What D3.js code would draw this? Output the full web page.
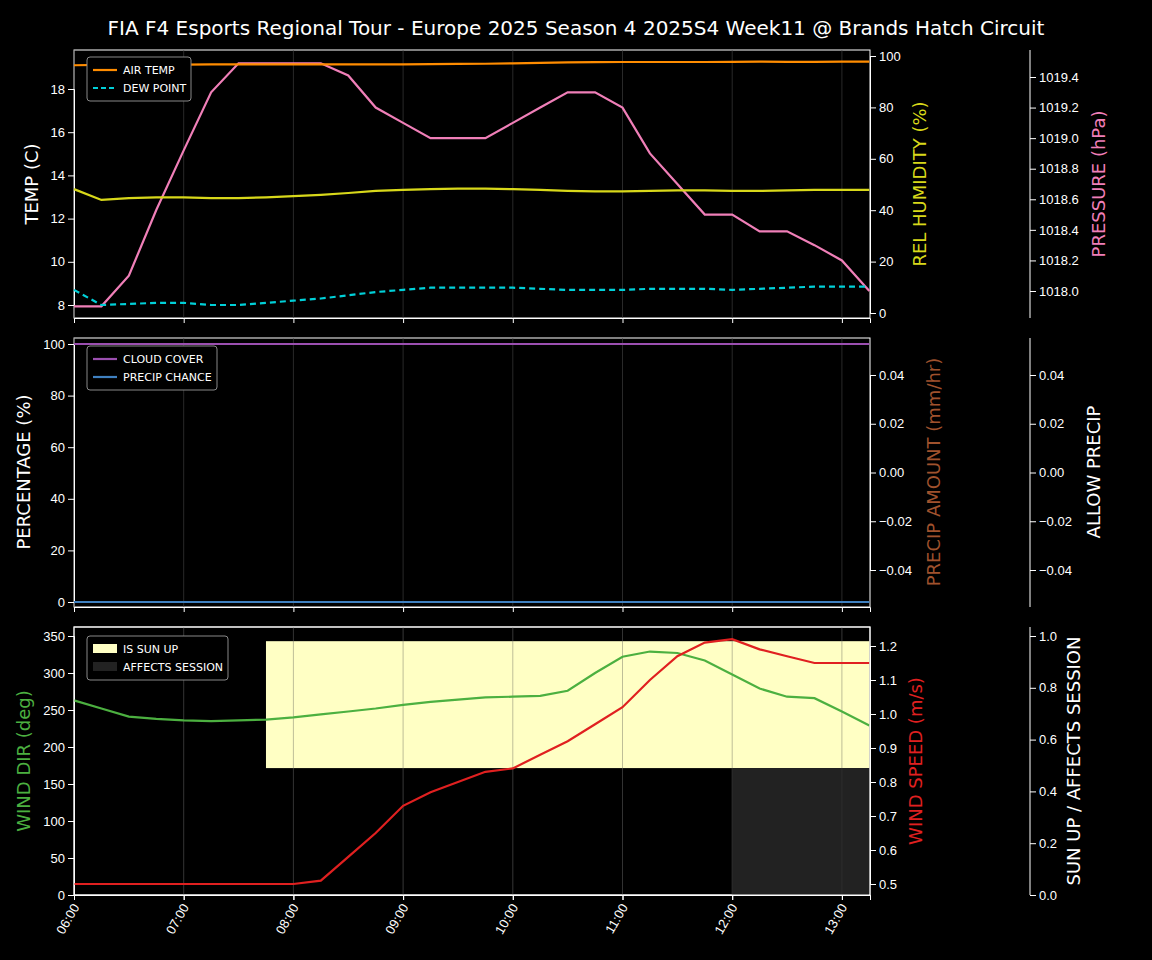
<!DOCTYPE html>
<html><head><meta charset="utf-8">
<script src="https://cdn.jsdelivr.net/npm/d3@7"></script>
<style>body{margin:0;background:#000}svg{font-family:"DejaVu Sans",sans-serif}</style>
</head><body><svg id="c" width="1152" height="960"></svg>
<script>
const times=["06:00","06:15","06:30","06:45","07:00","07:15","07:30","07:45","08:00","08:15","08:30","08:45","09:00","09:15","09:30","09:45","10:00","10:15","10:30","10:45","11:00","11:15","11:30","11:45","12:00","12:15","12:30","12:45","13:00","13:15"];
const xTicks=["06:00","07:00","08:00","09:00","10:00","11:00","12:00","13:00"];
const airTemp=[19.1,19.12,19.13,19.13,19.13,19.14,19.14,19.14,19.14,19.14,19.14,19.14,19.14,19.15,19.16,19.17,19.19,19.21,19.23,19.24,19.25,19.25,19.25,19.25,19.26,19.27,19.26,19.26,19.27,19.27];
const dewPoint=[8.7,8.0,8.05,8.1,8.1,8.0,8.0,8.1,8.2,8.3,8.45,8.6,8.7,8.8,8.8,8.8,8.8,8.75,8.7,8.7,8.7,8.75,8.75,8.75,8.7,8.75,8.8,8.85,8.85,8.85];
const humidity=[48.2,44,44.7,45,45,44.7,44.7,45,45.5,46,46.7,47.5,47.9,48.2,48.4,48.4,48.2,47.9,47.5,47.3,47.3,47.5,47.7,47.7,47.5,47.5,47.7,47.9,47.9,47.9];
const pressure=[1017.9,1017.9,1018.1,1018.53,1018.92,1019.3,1019.49,1019.49,1019.49,1019.49,1019.41,1019.2,1019.1,1019.0,1019.0,1019.0,1019.1,1019.2,1019.3,1019.3,1019.2,1018.9,1018.7,1018.5,1018.5,1018.39,1018.39,1018.3,1018.2,1018.0];
const cloud=times.map(()=>100);
const precipChance=times.map(()=>0);
const windDir=[263,252,241,238,236,235,236,237,240,244,248,252,257,261,264,267,268,269,276,300,322,329,327,317,298,279,268,266,248,229];
const windSpeed=[0.5,0.5,0.5,0.5,0.5,0.5,0.5,0.5,0.5,0.51,0.58,0.65,0.73,0.77,0.8,0.83,0.84,0.88,0.92,0.97,1.02,1.1,1.17,1.21,1.22,1.19,1.17,1.15,1.15,1.15];
const sunUp=[0,0,0,0,0,0,0,1,1,1,1,1,1,1,1,1,1,1,1,1,1,1,1,1,1,1,1,1,1,1];
const affects=[0,0,0,0,0,0,0,0,0,0,0,0,0,0,0,0,0,0,0,0,0,0,0,0,1,1,1,1,1,1];

const svg=d3.select("#c");
const toMin=t=>{const [h,m]=t.split(":").map(Number);return h*60+m;};
const L=74,R=870,R2=1030;
const x=d3.scaleLinear().range([L,870]).domain([360,360+(870-74)/109.7*60]);
const W="#fff";
svg.append("text").attr("x",576).attr("y",35).attr("text-anchor","middle").attr("fill",W).attr("font-size",20).text("FIA F4 Esports Regional Tour - Europe 2025 Season 4 2025S4 Week11 @ Brands Hatch Circuit");

function styleAxis(g){g.selectAll("path,line").attr("stroke",W);g.selectAll("text").attr("fill",W).attr("font-size",13);}
function grid(top,bot,op){xTicks.forEach(t=>svg.append("line").attr("x1",x(toMin(t))).attr("x2",x(toMin(t))).attr("y1",top).attr("y2",bot).attr("stroke","#444").attr("stroke-opacity",op));}
function panel(top,bot){
  svg.append("rect").attr("x",L).attr("y",top).attr("width",R-L).attr("height",bot-top).attr("fill","#000").attr("stroke",W);
  grid(top,bot,0.6);
  const g=svg.append("g").attr("transform",`translate(0,${bot})`).call(d3.axisBottom(x).tickValues(xTicks.map(toMin)).tickFormat(()=>"").tickSize(5));styleAxis(g);
}
function label(txt,xx,yy,col){svg.append("text").attr("transform",`translate(${xx},${yy}) rotate(-90)`).attr("text-anchor","middle").attr("fill",col).attr("font-size",18).text(txt);}
function line(data,y,col,dash){svg.append("path").datum(data).attr("fill","none").attr("stroke",col).attr("stroke-width",2.2).attr("stroke-dasharray",dash||null)
  .attr("d",d3.line().x((d,i)=>x(toMin(times[i]))).y(d=>y(d)));}
function legend(x0,y0,items){const h=items.length*18+8;
  svg.append("rect").attr("x",x0).attr("y",y0).attr("width",items.w).attr("height",h).attr("fill","#000").attr("stroke","#888").attr("rx",3);
  items.forEach((it,i)=>{const yy=y0+13+i*18;
    if(it.box) svg.append("rect").attr("x",x0+6).attr("y",yy-5).attr("width",24).attr("height",9).attr("fill",it.col);
    else svg.append("line").attr("x1",x0+6).attr("x2",x0+30).attr("y1",yy).attr("y2",yy).attr("stroke",it.col).attr("stroke-width",2.2).attr("stroke-dasharray",it.dash||null);
    svg.append("text").attr("x",x0+36).attr("y",yy+4).attr("fill",W).attr("font-size",11).text(it.name);});}

// Panel 1
const t1=50,b1=318;
panel(t1,b1);
const yT=d3.scaleLinear().domain([8,18]).range([305,89]);
const yH=d3.scaleLinear().domain([0,100]).range([313,56]);
const yP=d3.scaleLinear().domain([1018.0,1019.4]).range([291,77]);
styleAxis(svg.append("g").attr("transform",`translate(${L},0)`).call(d3.axisLeft(yT).tickValues([8,10,12,14,16,18])));
styleAxis(svg.append("g").attr("transform",`translate(${R},0)`).call(d3.axisRight(yH).tickValues([0,20,40,60,80,100])));
const gp=svg.append("g").attr("transform",`translate(${R2},0)`).call(d3.axisRight(yP).tickValues([1018.0,1018.2,1018.4,1018.6,1018.8,1019.0,1019.2,1019.4]).tickFormat(d3.format(".1f")));
styleAxis(gp);gp.select("path").attr("d",`M0,${t1}V${b1}`);
line(pressure,yP,"#f07fb8");
line(humidity,yH,"#d8d81a");
line(airTemp,yT,"#ff8c00");
line(dewPoint,yT,"#00d0d8","6,4");
label("TEMP (C)",38,184,W);label("REL HUMIDITY (%)",926,184,"#d8d81a");label("PRESSURE (hPa)",1105,184,"#f07fb8");
const l1=[{name:"AIR TEMP",col:"#ff8c00"},{name:"DEW POINT",col:"#00d0d8",dash:"5,3"}];l1.w=104;legend(87,57,l1);

// Panel 2
const t2=338,b2=607;
panel(t2,b2);
const yC=d3.scaleLinear().domain([0,100]).range([602,344]);
const yA=d3.scaleLinear().domain([-0.04,0.04]).range([570,375]);
styleAxis(svg.append("g").attr("transform",`translate(${L},0)`).call(d3.axisLeft(yC).tickValues([0,20,40,60,80,100])));
styleAxis(svg.append("g").attr("transform",`translate(${R},0)`).call(d3.axisRight(yA).tickValues([-0.04,-0.02,0,0.02,0.04]).tickFormat(d3.format(".2f"))));
const ga=svg.append("g").attr("transform",`translate(${R2},0)`).call(d3.axisRight(yA).tickValues([-0.04,-0.02,0,0.02,0.04]).tickFormat(d3.format(".2f")));styleAxis(ga);ga.select("path").attr("d",`M0,${t2}V${b2}`);
line(cloud,yC,"#9b4fb0");line(precipChance,yC,"#3f80c0");
label("PERCENTAGE (%)",30,472,W);label("PRECIP AMOUNT (mm/hr)",940,472,"#a0522d");label("ALLOW PRECIP",1100,472,W);
const l2=[{name:"CLOUD COVER",col:"#9b4fb0"},{name:"PRECIP CHANCE",col:"#3f80c0"}];l2.w=130;legend(87,346,l2);

// Panel 3
const t3=627,b3=895;
panel(t3,b3);
const yD=d3.scaleLinear().domain([0,350]).range([895,636]);
const yS=d3.scaleLinear().domain([0.5,1.2]).range([884,646]);
const yU=d3.scaleLinear().domain([0,1]).range([895,636]);
const sunIdx=sunUp.map((v,i)=>v?i:-1).filter(i=>i>=0);
const sx0=x(toMin(times[sunIdx[0]])),sx1=x(toMin(times[sunIdx[sunIdx.length-1]]));
svg.append("rect").attr("x",sx0).attr("width",sx1-sx0).attr("y",yU(0.98)).attr("height",yU(0.49)-yU(0.98)).attr("fill","#ffffc4");
const affIdx=affects.map((v,i)=>v?i:-1).filter(i=>i>=0);
const ax0=x(toMin(times[affIdx[0]])),ax1=x(toMin(times[affIdx[affIdx.length-1]]));
svg.append("rect").attr("x",ax0).attr("width",ax1-ax0).attr("y",yU(0.49)).attr("height",yU(0)-yU(0.49)).attr("fill","#222");
grid(t3,b3,0.35);
styleAxis(svg.append("g").attr("transform",`translate(${L},0)`).call(d3.axisLeft(yD).tickValues([0,50,100,150,200,250,300,350])));
styleAxis(svg.append("g").attr("transform",`translate(${R},0)`).call(d3.axisRight(yS).tickValues([0.5,0.6,0.7,0.8,0.9,1.0,1.1,1.2]).tickFormat(d3.format(".1f"))));
const gu=svg.append("g").attr("transform",`translate(${R2},0)`).call(d3.axisRight(yU).tickValues([0,0.2,0.4,0.6,0.8,1.0]).tickFormat(d3.format(".1f")));styleAxis(gu);gu.select("path").attr("d",`M0,${t3}V${b3}`);
line(windDir,yD,"#4cb040");line(windSpeed,yS,"#e02020");
svg.append("rect").attr("x",L).attr("y",t3).attr("width",R-L).attr("height",b3-t3).attr("fill","none").attr("stroke",W);
label("WIND DIR (deg)",30,761,"#4cb040");label("WIND SPEED (m/s)",922,761,"#e02020");label("SUN UP / AFFECTS SESSION",1080,761,W);
const l3=[{name:"IS SUN UP",col:"#ffffc4",box:1},{name:"AFFECTS SESSION",col:"#222",box:1}];l3.w=141;legend(87,636,l3);
const gx=svg.append("g").attr("transform",`translate(0,${b3})`).call(d3.axisBottom(x).tickValues(xTicks.map(toMin)).tickFormat((d,i)=>xTicks[i]).tickSize(5));styleAxis(gx);
gx.selectAll("text").attr("transform","rotate(-60)").attr("text-anchor","end").attr("dx","-0.6em").attr("dy","0.2em");
</script></body></html>
